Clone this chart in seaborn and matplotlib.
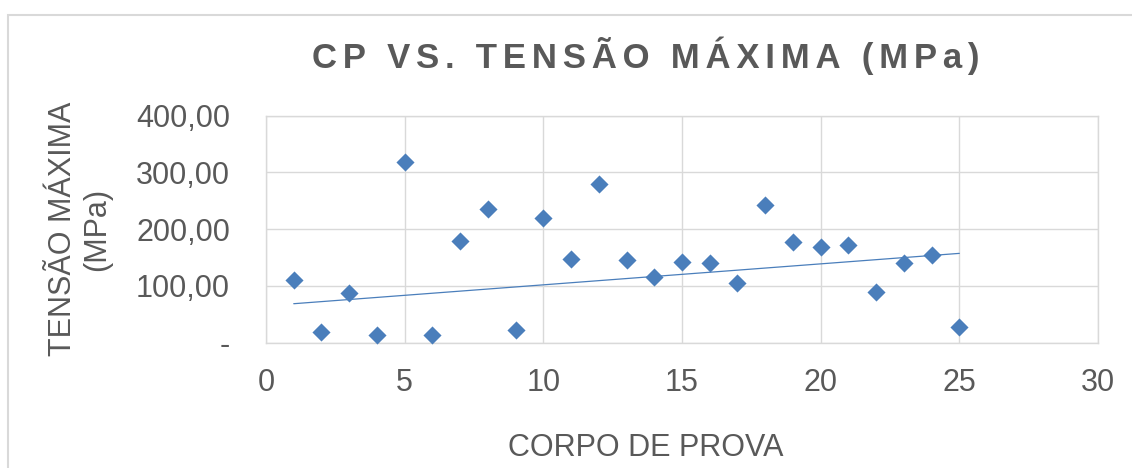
import matplotlib
matplotlib.use("Agg")
import matplotlib.pyplot as plt
import matplotlib.patches as mpatches
from matplotlib.ticker import FuncFormatter, MultipleLocator
import seaborn as sns
import pandas as pd

# ---- data ----
corpo_de_prova = list(range(1, 26))
tensao_maxima = [110.4, 18.3, 87.0, 13.5, 318.7, 13.5, 179.0, 235.4, 22.4, 219.0,
                 146.8, 278.9, 145.6, 115.0, 142.6, 140.8, 104.5, 242.4, 176.8, 169.0,
                 172.0, 89.8, 140.8, 154.4, 27.0]
trend_x = [1, 25]
trend_y = [68.7, 157.4]

title = "CP VS. TENSÃO MÁXIMA (MPa)"
x_label = "CORPO DE PROVA"
y_label = "TENSÃO MÁXIMA\n(MPa)"

df = pd.DataFrame({"cp": corpo_de_prova, "tensao": tensao_maxima})
trend = pd.DataFrame({"x": trend_x, "y": trend_y})

sns.set_theme(style="white")
plt.rcParams["font.family"] = ["Liberation Sans", "DejaVu Sans"]

W, H = 1132, 468
fig = plt.figure(figsize=(W / 100, H / 100), dpi=100)
fig.patch.set_facecolor("white")
ax = fig.add_axes([266 / W, 1 - 342.7 / H, (1098 - 266) / W, (342.7 - 115.7) / H])

blue = "#4a7ebb"
grey_txt = "#595959"
grid_c = "#d9d9d9"

sns.scatterplot(data=df, x="cp", y="tensao", marker="D", s=85, color=blue,
                linewidth=0, ax=ax, zorder=3, clip_on=False)
sns.lineplot(data=trend, x="x", y="y", color=blue, linewidth=0.9, ax=ax, zorder=2)

ax.set_xlim(0, 30)
ax.set_ylim(0, 400)
ax.xaxis.set_major_locator(MultipleLocator(5))
ax.yaxis.set_major_locator(MultipleLocator(100))
ax.yaxis.set_major_formatter(FuncFormatter(
    lambda v, p: "-" if abs(v) < 1e-9 else f"{v:.2f}".replace(".", ",")))
ax.grid(True, color=grid_c, linewidth=1.0)
ax.set_axisbelow(True)
for s in ax.spines.values():
    s.set_color(grid_c)
    s.set_linewidth(1.0)
ax.tick_params(axis="both", length=0, labelsize=22, labelcolor=grey_txt)
ax.tick_params(axis="x", pad=18)
ax.tick_params(axis="y", pad=26)
ax.set_xlabel("")
ax.set_ylabel("")

fig.text(646 / W, 1 - 448 / H, x_label, ha="center", va="center",
         fontsize=22, color=grey_txt)
fig.text(80 / W, 1 - 229 / H, y_label, ha="center", va="center", rotation=90,
         fontsize=22, color=grey_txt, multialignment="center", linespacing=1.15)

spaced = "\u200a\u200a".join(title)
fig.text(646 / W, 1 - 68 / H, spaced, ha="center", va="baseline",
         fontsize=25, fontweight="bold", color=grey_txt)

# outer chart frame
fig.patches.append(mpatches.Rectangle((8 / W, -0.1), 1.2, 0.1 + 1 - 15 / H,
                                      transform=fig.transFigure, fill=False,
                                      edgecolor="#d9d9d9", linewidth=1.5))

fig.savefig("out.png", dpi=100, facecolor="white")
